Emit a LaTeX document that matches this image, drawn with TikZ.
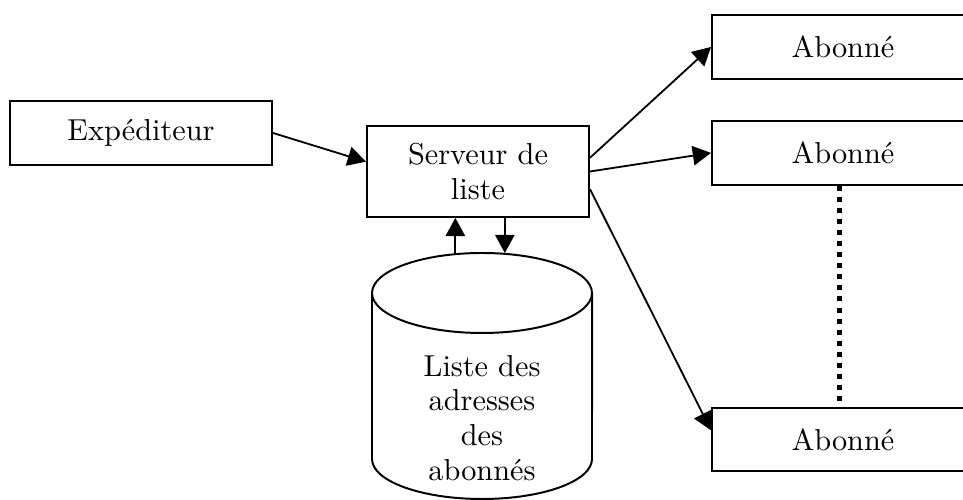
\documentclass[tikz,border=0pt]{standalone}
\usepackage{tikz}
\usetikzlibrary{positioning,arrows.meta}

\begin{document}
\begin{tikzpicture}[
    x=0.33pt, y=0.33pt,
    node distance = 13.2pt, auto,
    font={\fontsize{10}{11.5}\selectfont},
    box/.style={draw,line width=0.65pt,minimum width=86.5pt,minimum height=21.1pt,inner sep=0pt,align=center},
    srvbox/.style={box,minimum width=73.3pt,minimum height=30pt},
    arr/.style={line width=0.6pt,-{Triangle[length=6pt,width=6.4pt]}},
    dotline/.style={line width=1.65pt,dash pattern=on 1.65pt off 2pt},
    cyl/.style={line width=0.65pt},
]
    \useasboundingbox (0,0) rectangle (963,500);

    \node[box]                (exp)  at (141,367)   {Expéditeur};
    \node[srvbox]             (srv)  at (478,328.5) {Serveur de\\liste};
    \node[box]                (abo1) at (843,453)   {Abonné};
    \node[box,below=of abo1]  (abo2)                {Abonné};
    \node[box]                (abo3) at (843,60.5)  {Abonné};

    % base des abonnes
    \draw[cyl] (482,207) ellipse [x radius=36.3pt, y radius=13.2pt];
    \draw[cyl] (372,207) -- (372,41)
        arc[start angle=180, end angle=360, x radius=36.3pt, y radius=13.2pt] -- (592,207);
    \coordinate (dbtop) at (482,247);
    \node[align=center] (db) at (482,82) {Liste des\\adresses\\des\\abonnés};

    \draw[arr] (exp.east) -- (srv.175);
    \draw[arr] (srv.7)    -- (abo1.west);
    \draw[arr] (srv.east) -- (abo2.west);
    \draw[arr] (srv.351)  -- (abo3.176);

    \draw[arr] (srv.244 |- dbtop) -- (srv.244);
    \draw[arr] (srv.300) -- (srv.300 |- dbtop);

    \draw[dotline] ([xshift=-1pt]abo2.south) -- ([xshift=-1pt]abo3.north);

\end{tikzpicture}
\end{document}
